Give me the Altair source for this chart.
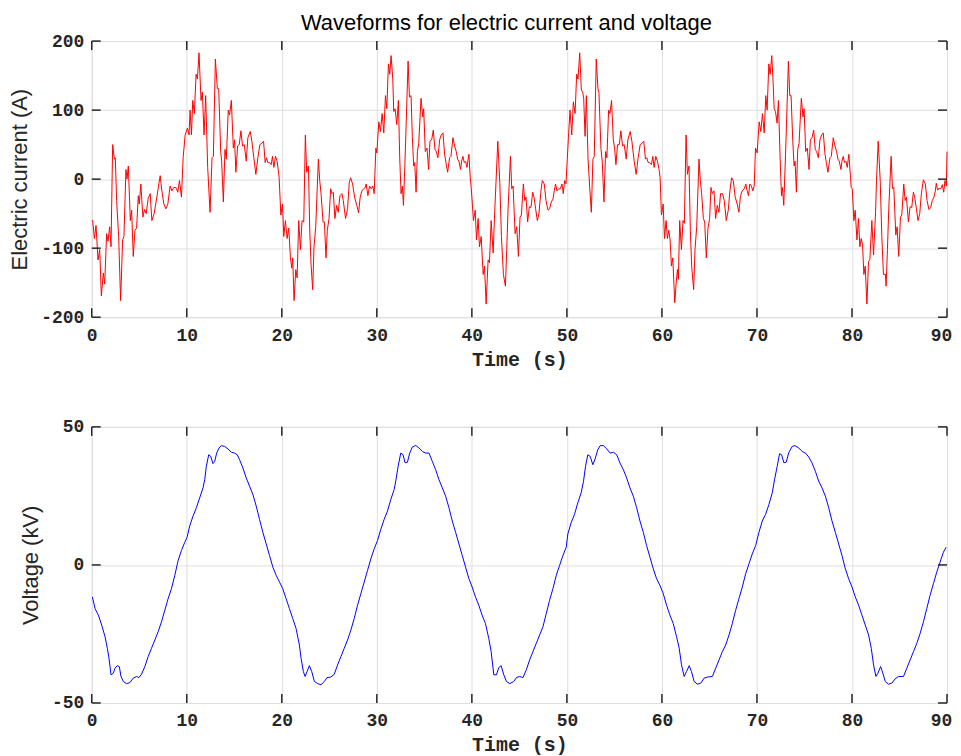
import altair as alt
import pandas as pd

# ---- Electric current (A) ----
cur_t = [0.00, 0.10, 0.28, 0.45, 0.66, 0.84, 1.01, 1.22, 1.36, 1.57, 1.71, 1.89, 2.03, 2.20, 2.38, 2.48, 2.62, 2.83, 3.04, 3.25, 3.39, 3.60, 3.71, 3.85, 4.06, 4.20, 4.37, 4.55, 4.72, 4.90, 5.00, 5.17, 5.38, 5.56, 5.73, 5.94, 6.15, 6.33, 6.57, 6.85, 7.03, 7.20, 7.38, 7.59, 7.80, 8.01, 8.25, 8.43, 8.64, 8.85, 9.06, 9.23, 9.44, 9.62, 9.83,
         10.07, 10.24, 10.35, 10.49, 10.63, 10.80, 10.98, 11.12, 11.29, 11.50, 11.64, 11.82, 11.99, 12.20, 12.45, 12.66, 12.80, 13.01, 13.22, 13.36, 13.57, 13.67, 13.85, 14.02, 14.16, 14.37, 14.51, 14.69, 14.90, 15.03, 15.17, 15.35, 15.52, 15.70, 15.87, 16.05, 16.26, 16.43, 16.68, 16.85, 17.06, 17.27, 17.48, 17.69, 17.90, 18.08, 18.25, 18.39, 18.53, 18.71, 18.88, 19.02, 19.16, 19.34, 19.51, 19.72, 19.90,
         20.07, 20.21, 20.38, 20.56, 20.73, 20.91, 21.05, 21.15, 21.29, 21.47, 21.61, 21.78, 21.96, 22.13, 22.31, 22.48, 22.62, 22.80, 22.94, 23.08, 23.25, 23.39, 23.57, 23.85, 23.99, 24.13, 24.34, 24.48, 24.65, 24.79, 24.97, 25.14, 25.28, 25.42, 25.59, 25.77, 25.94, 26.12, 26.33, 26.47, 26.71, 26.92, 27.10, 27.24, 27.45, 27.66, 27.90, 28.08, 28.25, 28.43, 28.60, 28.78, 28.88, 29.06, 29.23, 29.41, 29.58, 29.72, 29.90,
         30.00, 30.21, 30.38, 30.56, 30.73, 30.91, 31.05, 31.22, 31.36, 31.50, 31.68, 31.78, 31.92, 32.10, 32.27, 32.41, 32.55, 32.69, 32.80, 33.01, 33.29, 33.43, 33.60, 33.74, 33.88, 33.99, 34.13, 34.27, 34.41, 34.65, 34.83, 34.93, 35.10, 35.28, 35.45, 35.59, 35.77, 35.94, 36.12, 36.26, 36.43, 36.61, 36.78, 36.96, 37.13, 37.31, 37.45, 37.66, 37.80, 38.01, 38.18, 38.36, 38.50, 38.64, 38.81, 38.92, 39.06, 39.20, 39.34, 39.48, 39.69, 39.83, 39.93,
         40.17, 40.35, 40.49, 40.66, 40.80, 40.98, 41.19, 41.33, 41.50, 41.71, 41.85, 42.03, 42.24, 42.41, 42.55, 42.73, 42.94, 43.11, 43.32, 43.53, 43.67, 43.81, 44.06, 44.20, 44.34, 44.55, 44.72, 44.90, 45.07, 45.21, 45.42, 45.56, 45.70, 45.87, 46.05, 46.22, 46.40, 46.54, 46.71, 46.89, 47.06, 47.24, 47.41, 47.62, 47.80, 48.01, 48.18, 48.36, 48.53, 48.67, 48.81, 48.95, 49.13, 49.30, 49.48, 49.62, 49.76, 49.90,
         50.16, 50.33, 50.51, 50.68, 50.86, 51.03, 51.17, 51.35, 51.52, 51.66, 51.77, 51.91, 52.05, 52.22, 52.40, 52.57, 52.74, 52.88, 53.09, 53.27, 53.37, 53.58, 53.72, 53.90, 54.07, 54.21, 54.39, 54.53, 54.70, 54.88, 55.02, 55.16, 55.33, 55.51, 55.68, 55.86, 56.03, 56.24, 56.42, 56.66, 56.84, 57.08, 57.29, 57.50, 57.71, 57.92, 58.09, 58.27, 58.41, 58.55, 58.72, 58.90, 59.04, 59.18, 59.35, 59.53, 59.70, 59.81, 59.95,
         60.13, 60.27, 60.44, 60.58, 60.72, 60.86, 61.00, 61.14, 61.35, 61.49, 61.63, 61.73, 61.87, 62.05, 62.22, 62.36, 62.54, 62.68, 62.85, 62.99, 63.13, 63.34, 63.48, 63.66, 63.90, 64.04, 64.18, 64.36, 64.50, 64.67, 64.85, 65.02, 65.16, 65.30, 65.48, 65.65, 65.82, 66.00, 66.17, 66.38, 66.56, 66.77, 66.98, 67.16, 67.33, 67.51, 67.71, 67.92, 68.10, 68.27, 68.45, 68.66, 68.83, 68.97, 69.11, 69.25, 69.42, 69.56, 69.71, 69.85,
         70.02, 70.23, 70.41, 70.58, 70.76, 70.93, 71.07, 71.25, 71.39, 71.56, 71.70, 71.81, 71.95, 72.12, 72.26, 72.44, 72.58, 72.68, 72.82, 73.03, 73.31, 73.45, 73.59, 73.77, 73.91, 74.01, 74.15, 74.29, 74.43, 74.67, 74.85, 74.96, 75.13, 75.30, 75.48, 75.62, 75.79, 75.97, 76.14, 76.28, 76.46, 76.63, 76.81, 76.98, 77.16, 77.33, 77.47, 77.68, 77.82, 78.03, 78.21, 78.38, 78.52, 78.66, 78.84, 78.94, 79.08, 79.22, 79.36, 79.50, 79.67, 79.85, 79.92,
         80.03, 80.20, 80.34, 80.52, 80.69, 80.83, 80.97, 81.11, 81.25, 81.39, 81.57, 81.74, 81.88, 82.09, 82.27, 82.48, 82.58, 82.76, 82.97, 83.14, 83.31, 83.52, 83.59, 83.73, 83.87, 84.12, 84.26, 84.40, 84.61, 84.75, 84.92, 85.10, 85.24, 85.45, 85.59, 85.73, 85.94, 86.11, 86.29, 86.46, 86.60, 86.78, 86.95, 87.13, 87.30, 87.51, 87.72, 87.90, 88.10, 88.28, 88.45, 88.63, 88.77, 88.87, 89.01, 89.16, 89.33, 89.51, 89.65, 89.79, 89.93, 90.00]
cur_a = [-60, -60, -86, -67, -117, -102, -169, -136, -152, -79, -90, -69, -98, 50, 29, 31, -31, -83, -176, -88, -83, 14, 0, 19, -60, -45, -112, -74, -71, -24, -36, -7, -55, -44, -50, -28, -21, -60, -50, -26, -10, 5, -17, -36, -43, -36, -10, -17, -12, -12, -19, -2, -26, 31, 64,
         74, 64, 100, 64, 114, 95, 152, 145, 183, 114, 126, 64, 121, 17, -48, 31, 33, 174, 131, 131, 40, 26, -33, 43, 29, 100, 93, 114, 45, 57, 10, 48, 50, 70, 48, 50, 26, 60, 69, 55, 31, 7, 31, 50, 52, 55, 24, 31, 24, 24, 21, 33, 17, 33, 26, 2, -52,
         -36, -83, -60, -86, -71, -114, -129, -114, -176, -131, -143, -60, -102, -60, -62, 64, 10, 19, -74, -124, -160, -98, -69, 29, -2, -21, -62, -62, -114, -74, -57, -14, -21, -19, -57, -38, -48, -24, -21, -31, -57, -43, -5, 2, -7, -26, -38, -49, -26, -17, -14, -12, -7, -24, -10, -14, -10, -21, 45,
         38, 83, 69, 95, 67, 121, 102, 167, 152, 179, 145, 98, 102, 79, 114, 31, -21, -10, -38, 45, 171, 119, 121, 60, 19, 24, -19, 40, 52, 117, 90, 102, 40, 45, 14, 55, 57, 71, 43, 40, 31, 57, 64, 67, 36, 21, 10, 31, 33, 60, 48, 40, 29, 26, 14, 26, 33, 24, 26, 17, 36, 2, -12,
         -60, -45, -88, -57, -98, -83, -138, -126, -181, -117, -121, -60, -107, -45, -2, 55, -5, -83, -138, -155, -102, -43, 33, -14, -10, -79, -69, -112, -55, -52, -7, -31, -26, -62, -40, -41, -19, -26, -43, -60, -50, -21, -2, -7, -31, -45, -43, -33, -29, -17, -7, -17, -14, -14, -7, -21, -2, -7,
         60, 100, 64, 112, 95, 152, 145, 183, 129, 126, 117, 62, 121, 31, -12, -48, 29, 33, 174, 131, 126, 45, 26, -33, 40, 31, 100, 95, 114, 57, 45, 21, 50, 50, 70, 48, 50, 29, 57, 69, 55, 26, 7, 31, 50, 52, 55, 29, 31, 24, 24, 21, 33, 17, 33, 26, 14, 2, -52,
         -36, -86, -60, -86, -74, -88, -126, -114, -179, -152, -131, -145, -60, -102, -60, -64, 64, 7, 19, -74, -126, -160, -102, -69, 29, -2, -21, -57, -62, -114, -71, -57, -12, -21, -17, -57, -38, -48, -21, -21, -31, -60, -45, -17, 2, -2, -26, -36, -48, -24, -17, -14, -7, -17, -24, -7, -10, -17, -10, 45,
         38, 83, 69, 95, 67, 121, 100, 167, 152, 179, 140, 102, 98, 81, 114, 29, -24, -12, -38, 45, 171, 121, 121, 55, 19, 26, -19, 43, 52, 117, 90, 102, 40, 45, 14, 57, 60, 71, 43, 40, 31, 57, 64, 67, 36, 21, 10, 31, 33, 60, 48, 40, 29, 26, 14, 26, 33, 24, 26, 17, 36, 2, -12,
         -14, -60, -45, -88, -57, -98, -86, -95, -138, -126, -181, -119, -117, -60, -110, -48, -2, 55, -2, -83, -138, -138, -155, -102, -43, 33, -14, -12, -81, -69, -112, -55, -52, -7, -31, -26, -62, -40, -41, -19, -26, -43, -60, -50, -21, -1, -7, -31, -44, -41, -31, -26, -17, -6, -16, -13, -14, -8, -19, -2, -10, 40]

# ---- Voltage (kV) ----
volt_t = [0.07, 0.35, 0.70, 1.05, 1.40, 1.64, 1.82, 2.03, 2.27, 2.45, 2.69, 2.90, 3.08, 3.32, 3.67, 4.02, 4.37, 4.72, 4.97, 5.24, 5.59, 5.94, 6.29, 6.64, 6.99, 7.34, 7.69, 8.04, 8.39, 8.74, 9.09, 9.44, 9.79,
          10.03, 10.31, 10.66, 11.01, 11.36, 11.71, 11.89, 12.06, 12.31, 12.52, 12.76, 12.94, 13.15, 13.39, 13.64, 13.99, 14.34, 14.69, 15.03, 15.31, 15.56, 15.91, 16.26, 16.61, 16.96, 17.31, 17.66, 18.01, 18.36, 18.71, 19.06, 19.41, 19.76,
          20.10, 20.45, 20.80, 21.15, 21.50, 21.85, 22.03, 22.27, 22.45, 22.66, 22.90, 23.15, 23.43, 23.78, 24.13, 24.48, 24.76, 25.17, 25.52, 25.87, 26.22, 26.57, 26.92, 27.27, 27.62, 27.97, 28.32, 28.67, 29.02, 29.37, 29.72,
          30.07, 30.42, 30.77, 31.12, 31.47, 31.82, 31.99, 32.24, 32.52, 32.76, 32.97, 33.22, 33.46, 33.74, 34.09, 34.44, 34.79, 35.14, 35.49, 35.84, 36.19, 36.54, 36.89, 37.24, 37.59, 37.94, 38.29, 38.64, 38.99, 39.34, 39.69,
          40.03, 40.38, 40.73, 41.08, 41.43, 41.78, 42.03, 42.31, 42.59, 42.83, 43.08, 43.36, 43.64, 43.99, 44.41, 44.69, 45.03, 45.38, 45.73, 46.08, 46.43, 46.78, 47.13, 47.48, 47.83, 48.18, 48.53, 48.88, 49.23, 49.58, 49.93,
          50.10, 50.45, 50.80, 51.15, 51.50, 51.75, 51.96, 52.20, 52.45, 52.73, 52.97, 53.25, 53.50, 53.85, 54.20, 54.55, 54.90, 55.24, 55.59, 55.94, 56.29, 56.64, 56.99, 57.34, 57.69, 58.04, 58.39, 58.74, 59.09, 59.44, 59.79,
          60.14, 60.49, 60.84, 61.19, 61.54, 61.82, 62.06, 62.34, 62.59, 62.87, 63.11, 63.39, 63.74, 64.09, 64.44, 64.79, 65.31, 65.66, 66.01, 66.36, 66.71, 67.06, 67.41, 67.76, 68.11, 68.46, 68.81, 69.16, 69.51, 69.86,
          70.21, 70.56, 70.91, 71.26, 71.61, 71.85, 72.13, 72.38, 72.59, 72.83, 73.08, 73.36, 73.71, 73.99, 74.41, 74.76, 75.10, 75.45, 75.80, 76.15, 76.50, 76.85, 77.20, 77.55, 77.90, 78.25, 78.60, 78.95, 79.30, 79.65,
          80.00, 80.35, 80.70, 81.05, 81.40, 81.75, 82.03, 82.27, 82.52, 82.73, 83.01, 83.25, 83.50, 83.85, 84.20, 84.55, 84.90, 85.42, 85.77, 86.12, 86.47, 86.82, 87.17, 87.52, 87.87, 88.22, 88.57, 88.92, 89.27, 89.62, 89.90]
volt_kv = [-11.6, -15.8, -18.2, -21.8, -26.0, -30.2, -33.8, -39.8, -39.2, -37.4, -36.5, -36.8, -40.4, -42.2, -43.0, -42.6, -41.0, -40.4, -40.8, -39.6, -36.8, -33.2, -30.2, -27.2, -24.2, -20.6, -16.4, -12.2, -8.6, -3.8, 1.6, 5.2, 8.2,
           10.0, 14.1, 17.7, 20.7, 24.3, 27.9, 30.9, 35.7, 39.9, 39.3, 36.7, 37.5, 40.5, 42.3, 43.2, 42.9, 42.0, 40.8, 40.5, 39.9, 38.1, 35.1, 31.5, 28.5, 25.5, 21.3, 16.5, 11.8, 7.6, 3.4, -0.8, -3.8, -6.2,
           -8.6, -12.2, -15.8, -19.4, -23.0, -29.0, -33.8, -38.6, -40.4, -38.6, -36.5, -38.6, -42.2, -43.0, -43.4, -42.2, -40.8, -40.6, -39.6, -36.2, -33.2, -30.2, -27.2, -23.6, -19.4, -14.6, -10.4, -6.2, -2.0, 2.2, 5.8,
           8.8, 12.9, 16.5, 19.5, 23.7, 27.3, 30.3, 35.7, 40.5, 39.9, 37.0, 37.2, 40.5, 42.7, 43.3, 42.3, 41.1, 40.5, 40.5, 37.5, 34.5, 30.9, 27.9, 24.9, 20.7, 15.9, 11.8, 7.6, 3.4, -0.8, -5.0,
           -8.0, -11.6, -14.6, -18.2, -21.2, -26.6, -31.4, -39.8, -39.8, -37.2, -36.5, -39.8, -42.2, -43.0, -42.2, -40.8, -40.4, -40.8, -38.0, -34.4, -31.4, -28.4, -25.4, -22.4, -17.6, -12.8, -8.6, -3.8, -0.2, 3.4, 6.4,
           11.2, 15.3, 18.3, 22.5, 26.1, 30.3, 35.7, 39.9, 39.3, 36.3, 38.4, 41.7, 43.2, 43.2, 42.0, 40.5, 40.8, 39.9, 36.9, 34.5, 31.5, 27.9, 24.9, 20.7, 15.9, 11.8, 7.0, 2.8, -1.4, -5.0, -7.4,
           -10.4, -14.6, -18.2, -21.2, -26.0, -30.2, -36.2, -40.4, -38.6, -36.5, -38.6, -42.2, -43.2, -42.8, -41.0, -40.6, -40.4, -37.4, -34.4, -31.4, -29.0, -25.4, -21.2, -16.4, -12.2, -8.0, -3.2, 0.4, 4.0, 7.0,
           11.8, 15.9, 18.3, 21.9, 26.1, 30.9, 35.7, 40.3, 39.9, 37.0, 37.2, 40.8, 42.9, 43.2, 42.3, 41.1, 40.5, 39.1, 36.9, 33.9, 30.3, 27.9, 24.9, 20.7, 15.9, 11.8, 7.6, 3.4, -1.4, -5.0,
           -8.0, -11.6, -14.6, -18.2, -21.8, -25.4, -30.2, -36.2, -40.4, -39.2, -36.8, -39.2, -42.2, -43.2, -42.8, -41.2, -40.4, -40.4, -37.4, -34.4, -31.4, -28.4, -24.8, -20.6, -15.8, -11.0, -6.8, -2.6, 1.0, 4.6, 6.4]

x_ticks = [0, 10, 20, 30, 40, 50, 60, 70, 80, 90]
cur_ticks = [-200, -100, 0, 100, 200]
volt_ticks = [-50, 0, 50]

W, H = 858, 277
TICK = 9
FRAME = "#262626"
GRID = "#dfdfdf"
MONO = "Liberation Mono"
SANS = "Liberation Sans"

cur_df = pd.DataFrame({"t": cur_t, "v": cur_a})
volt_df = pd.DataFrame({"t": volt_t, "v": volt_kv})
xt_df = pd.DataFrame({"t": x_ticks})


def x_axis():
    return alt.Axis(values=x_ticks, grid=True, gridColor=GRID, gridWidth=1, ticks=False, domain=False,
                    labelFont=MONO, labelFontWeight="bold", labelFontSize=18, labelColor=FRAME,
                    labelPadding=9, labelFlush=False, labelExpr="'' + datum.value",
                    labelOffset={"condition": {"test": "datum.value === 90", "value": -6}, "value": 0},
                    title="Time (s)", titleFont=MONO, titleFontWeight="bold", titleFontSize=20,
                    titleColor=FRAME, titlePadding=5)


def y_axis(vals, title):
    return alt.Axis(values=vals, grid=True, gridColor=GRID, gridWidth=1, ticks=False, domain=False,
                    labelFont=MONO, labelFontWeight="bold", labelFontSize=18, labelColor=FRAME,
                    labelPadding=8, labelFlush=False, labelExpr="'' + datum.value",
                    title=title, titleFont=SANS, titleFontWeight="normal", titleFontSize=22,
                    titleColor=FRAME, titlePadding=9)


def panel(df, color, ydom, yvals, ytitle, title=None):
    xs = alt.Scale(domain=[0, 90], nice=False, zero=False)
    ys = alt.Scale(domain=ydom, nice=False, zero=False)
    line = alt.Chart(df).mark_line(color=color, strokeWidth=1).encode(
        x=alt.X("t:Q", scale=xs, axis=x_axis()),
        y=alt.Y("v:Q", scale=ys, axis=y_axis(yvals, ytitle)),
    )
    yt_df = pd.DataFrame({"v": yvals})
    tick_style = dict(color=FRAME, strokeWidth=1.5)
    top = alt.Chart(xt_df).mark_rule(**tick_style).encode(
        x=alt.X("t:Q", scale=xs), y=alt.value(0), y2=alt.value(TICK))
    bot = alt.Chart(xt_df).mark_rule(**tick_style).encode(
        x=alt.X("t:Q", scale=xs), y=alt.value(H), y2=alt.value(H - TICK))
    left = alt.Chart(yt_df).mark_rule(**tick_style).encode(
        y=alt.Y("v:Q", scale=ys), x=alt.value(0), x2=alt.value(TICK))
    right = alt.Chart(yt_df).mark_rule(**tick_style).encode(
        y=alt.Y("v:Q", scale=ys), x=alt.value(W), x2=alt.value(W - TICK))
    props = dict(width=W, height=H)
    if title:
        props["title"] = alt.Title(title, font=SANS, fontSize=22, fontWeight="normal",
                                   color="#000000", anchor="middle", offset=-3, dx=-13)
    return alt.layer(line, top, bot, left, right).properties(**props)


top_chart = panel(cur_df, "#ff0000", [-200, 200], cur_ticks, "Electric current (A)",
                  title="Waveforms for electric current and voltage")
bottom_chart = panel(volt_df, "#0000ff", [-50, 50], volt_ticks, "Voltage (kV)")

chart = alt.vconcat(top_chart, bottom_chart, spacing=47).properties(
    padding={"left": 0, "top": 2, "right": 0, "bottom": 0}
).configure_view(stroke=FRAME, strokeWidth=1.5).configure(background="white")

chart.save("out.html", embed_options={"renderer": "svg", "actions": False})
